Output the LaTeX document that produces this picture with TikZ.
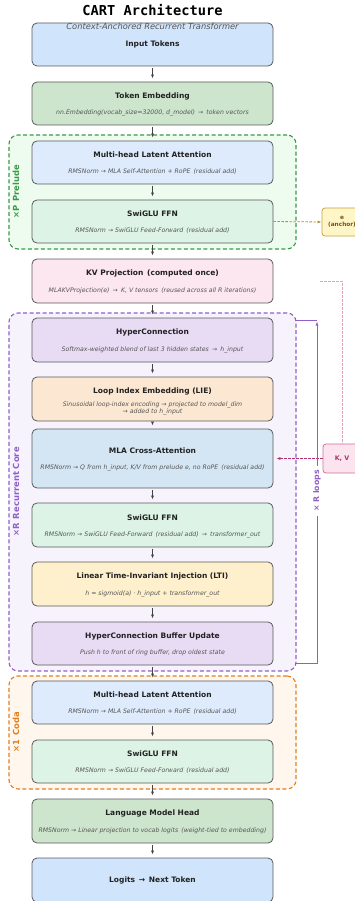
\documentclass[tikz,border=0pt]{standalone}
\usepackage{fontspec}
\setmainfont{DejaVu Sans}
\newfontfamily\monob{DejaVu Sans Mono}
\usetikzlibrary{arrows.meta}
\definecolor{cInput}{HTML}{D0E5FB}
\definecolor{cEmb}{HTML}{CDE5CC}
\definecolor{cMLA}{HTML}{DDEBFC}
\definecolor{cFFN}{HTML}{DDF3E6}
\definecolor{cKV}{HTML}{FCE6EF}
\definecolor{cHC}{HTML}{E8DBF4}
\definecolor{cLIE}{HTML}{FCE8D2}
\definecolor{cCross}{HTML}{D4E6F3}
\definecolor{cLTI}{HTML}{FEF0CC}
\definecolor{gFill}{HTML}{EEFCF0}
\definecolor{gLine}{HTML}{3A9A48}
\definecolor{pFill}{HTML}{F6F3FD}
\definecolor{pLine}{HTML}{9060C8}
\definecolor{oFill}{HTML}{FFF6EE}
\definecolor{oLine}{HTML}{E08020}
\definecolor{aFill}{HTML}{FFF6C8}
\definecolor{aLine}{HTML}{C8A040}
\definecolor{aText}{HTML}{805010}
\definecolor{kFill}{HTML}{FCE4EE}
\definecolor{kLine}{HTML}{D07098}
\definecolor{kText}{HTML}{B03070}
\definecolor{kDash}{HTML}{E4A0BC}
\definecolor{tDark}{HTML}{222222}
\definecolor{tGray}{HTML}{555555}
\definecolor{bLine}{HTML}{5A5A5A}
\tikzset{
  blk/.style={draw=bLine, line width=0.8pt, rounded corners=5pt, minimum width=241pt, inner sep=0pt},
  ttl/.style={font=\fontsize{7.5}{9}\selectfont\bfseries, text=tDark, inner sep=0pt},
  sbt/.style={font=\fontsize{6.2}{8}\selectfont\itshape, text=tGray, inner sep=0pt, align=center},
  arr/.style={draw=tDark!85, line width=0.7pt, -{Latex[length=4pt,width=3pt]}, shorten <=2pt, shorten >=3pt},
  frame/.style={dashed, dash pattern=on 4pt off 2.5pt, line width=1.1pt, rounded corners=9pt},
  flabel/.style={font=\fontsize{8.4}{9}\selectfont\bfseries, rotate=90, inner sep=0pt},
}
\newcommand\blkbox[6]{%
  \node[blk, fill=#4, minimum height=#3] (#1) at (152.5,#2) {};
  \node[ttl] (#1t) at ([yshift=7.5pt]#1.center) {#5};
  \node[sbt] (#1s) at ([yshift=-9.5pt]#1.center) {#6};
}
\begin{document}
\begin{tikzpicture}[x=1pt,y=-1pt]
\useasboundingbox (0,0) rectangle (355,901);
% frames
\node[frame, draw=gLine, fill=gFill, minimum width=287pt, minimum height=114pt, inner sep=0pt] (prelude) at (152.5,192) {};
\node[frame, draw=pLine, fill=pFill, minimum width=287pt, minimum height=358pt, inner sep=0pt] (core) at (152.5,492) {};
\node[frame, draw=oLine, fill=oFill, minimum width=287pt, minimum height=113pt, inner sep=0pt] (coda) at (152.5,732.5) {};
\node[flabel, text=gLine] (plab) at (16,192) {×P\enspace Prelude};
\node[flabel, text=pLine] (clab) at (16,492) {×R\enspace Recurrent Core};
\node[flabel, text=oLine] (olab) at (16,732.5) {×1\enspace Coda};
% title
\node[font=\fontsize{13.7}{15}\selectfont\monob\bfseries, text=black, inner sep=0pt] (title) at (152.5,10) {CART Architecture};
% boxes
\node[blk, fill=cInput, minimum height=43pt] (inp) at (152.5,44.5) {};
\node[ttl] (inpt) at (inp.center) {Input Tokens};
\node[font=\fontsize{8.3}{9}\selectfont\itshape, text=tGray, inner sep=0pt] (sub) at (152.5,26.5) {Context-Anchored Recurrent Transformer};
\blkbox{emb}{103.5}{43pt}{cEmb}{Token Embedding}{nn.Embedding(vocab\_size=32000, d\_model)\enspace→\enspace token vectors}
\blkbox{mla1}{162.5}{43pt}{cMLA}{Multi-head Latent Attention}{RMSNorm → MLA Self-Attention + RoPE\enspace (residual add)}
\blkbox{ffn1}{221.5}{43pt}{cFFN}{SwiGLU FFN}{RMSNorm → SwiGLU Feed-Forward\enspace (residual add)}
\blkbox{kv}{281}{44pt}{cKV}{KV Projection\enspace(computed once)}{MLAKVProjection(e)\enspace→\enspace K, V tensors\enspace (reused across all R iterations)}
\blkbox{hc}{340}{44pt}{cHC}{HyperConnection}{Softmax-weighted blend of last 3 hidden states\enspace→\enspace h\_input}
\blkbox{lie}{399}{44pt}{cLIE}{Loop Index Embedding (LIE)}{Sinusoidal loop-index encoding → projected to model\_dim\\[-1.2pt]→ added to h\_input}
\blkbox{cross}{458.5}{59pt}{cCross}{MLA Cross-Attention}{RMSNorm → Q from h\_input, K/V from prelude e, no RoPE\enspace (residual add)}
\blkbox{ffn2}{525}{44pt}{cFFN}{SwiGLU FFN}{RMSNorm → SwiGLU Feed-Forward\enspace (residual add)\enspace→\enspace transformer\_out}
\blkbox{lti}{584}{44pt}{cLTI}{Linear Time-Invariant Injection (LTI)}{h = sigmoid(a) · h\_input + transformer\_out}
\blkbox{buf}{643.5}{43pt}{cHC}{HyperConnection Buffer Update}{Push h to front of ring buffer, drop oldest state}
\blkbox{mla2}{702.5}{43pt}{cMLA}{Multi-head Latent Attention}{RMSNorm → MLA Self-Attention + RoPE\enspace (residual add)}
\blkbox{ffn3}{761.5}{43pt}{cFFN}{SwiGLU FFN}{RMSNorm → SwiGLU Feed-Forward\enspace (residual add)}
\blkbox{lm}{821}{44pt}{cEmb}{Language Model Head}{RMSNorm → Linear projection to vocab logits\enspace (weight-tied to embedding)}
\node[blk, fill=cInput, minimum height=44pt] (out) at (152.5,880) {};
\node[ttl] (outt) at (out.center) {Logits\enspace→\enspace Next Token};
% arrows
\foreach \a/\b in {inp/emb,emb/mla1,mla1/ffn1,ffn1/kv,kv/hc,hc/lie,lie/cross,cross/ffn2,ffn2/lti,lti/buf,buf/mla2,mla2/ffn3,ffn3/lm,lm/out}
  \draw[arr] (\a.south) -- (\b.north);
% anchor
\node[draw=aLine, fill=aFill, line width=0.8pt, rounded corners=3pt, minimum width=40pt, minimum height=28pt, inner sep=0pt, align=center, font=\fontsize{5.8}{6.5}\selectfont\bfseries, text=aText] (anc) at (342,222) {e\\(anchor)};
\draw[draw=aLine!90!black, line width=0.8pt, dashed, dash pattern=on 2.5pt off 1.5pt, -{Latex[length=4pt,width=3pt]}] (ffn1.east) -- (anc.west);
% K,V
\node[draw=kLine, fill=kFill, line width=0.8pt, rounded corners=3pt, minimum width=38pt, minimum height=29pt, inner sep=0pt, font=\fontsize{6.3}{7}\selectfont\bfseries, text=kText] (kvb) at (342,458.5) {K, V};
\coordinate (kvs) at (320,281);
\coordinate (kvc) at (342,281);
\draw[draw=kDash, line width=0.8pt, dashed, dash pattern=on 2.5pt off 1.5pt] (kvs) -- (kvc) -- (kvb.north);
\draw[draw=kText, line width=0.7pt, dashed, dash pattern=on 2.5pt off 1.5pt, -{Latex[length=4pt,width=3pt]}, shorten >=3pt] (kvb.west) -- (cross.east);
% loop
\coordinate (lb0) at (296,663);
\coordinate (lb1) at (317,663);
\coordinate (lt1) at (317,320);
\coordinate (lt0) at (296,320);
\draw[draw=pLine, line width=0.9pt] (lt0) -- (lt1);
\draw[draw=pLine, line width=0.9pt, -{Latex[length=4pt,width=3pt]}, shorten >=1.5pt] (lb0) -- (lb1) -- (lt1);
\node[fill=white, rotate=90, inner xsep=4pt, inner ysep=1pt, font=\fontsize{7.8}{8}\selectfont\bfseries, text=pLine] (llab) at (317,491) {× R loops};
\end{tikzpicture}
\end{document}
